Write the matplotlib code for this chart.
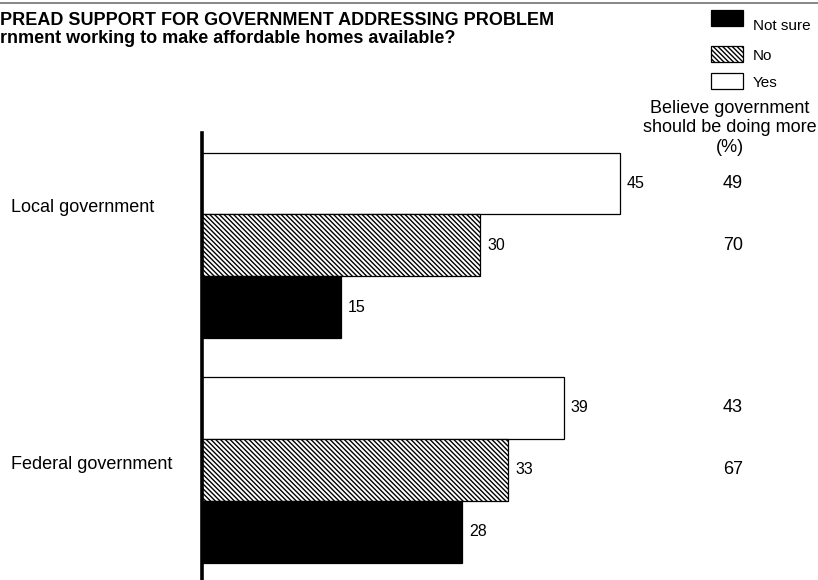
import matplotlib
matplotlib.use("Agg")
import matplotlib.pyplot as plt
from matplotlib.patches import Rectangle
from matplotlib.lines import Line2D
from matplotlib.transforms import blended_transform_factory

plt.rcParams["font.family"] = ["Liberation Sans", "DejaVu Sans"]
plt.rcParams["hatch.linewidth"] = 1.0

# data
GROUPS = ["Local government", "Federal government"]
SERIES = ["Yes", "No", "Not sure"]
YES = [45, 39]
NO = [30, 33]
NOT_SURE = [15, 28]
MORE_YES = [49, 43]   # believe government should be doing more (%), among "Yes"
MORE_NO = [70, 67]    # among "No"

TITLE1 = "PREAD SUPPORT FOR GOVERNMENT ADDRESSING PROBLEM"
TITLE2 = "rnment working to make affordable homes available?"
SIDE_HEAD = "Believe government\nshould be doing more\n(%)"

STYLE = {
    "Yes": dict(facecolor="white", hatch=None),
    "No": dict(facecolor="white", hatch="\\" * 7),
    "Not sure": dict(facecolor="black", hatch=None),
}

W, H = 818, 580
fig = plt.figure(figsize=(W / 100, H / 100), dpi=100)


def fx(px):
    return px / W


def fy(py):
    return 1 - py / H


GAP = 3.62  # distance between group starts, in bar heights
ax = fig.add_axes([fx(202), 0, 1 - fx(202), fy(132.7)])
ax.set_xlim(0, (W - 202) / 9.28)
ax.set_ylim(2 * 1 + GAP + 0.5 + 0.28, -0.5 - 0.32)

values = {"Yes": YES, "No": NO, "Not sure": NOT_SURE}
for i, s in enumerate(SERIES):
    ys = [g * GAP + i for g in range(len(GROUPS))]
    bars = ax.barh(ys, values[s], height=1.0, color=STYLE[s]["facecolor"],
                   hatch=STYLE[s]["hatch"], edgecolor="black", linewidth=0.9,
                   zorder=2)
    ax.bar_label(bars, labels=[str(v) for v in values[s]], padding=5,
                 fontsize=11.5)

# right-hand column: share believing government should do more
for g in range(len(GROUPS)):
    ax.text(57.2, g * GAP + 0, str(MORE_YES[g]), ha="center", va="center",
            fontsize=13, clip_on=False)
    ax.text(57.2, g * GAP + 1, str(MORE_NO[g]), ha="center", va="center",
            fontsize=13, clip_on=False)
fig.text(fx(730), fy(128), SIDE_HEAD, ha="center", va="center", fontsize=13,
         linespacing=1.2)

# category labels
lab_tr = blended_transform_factory(fig.transFigure, ax.transData)
for g, (name, off) in enumerate(zip(GROUPS, [0.38, 0.92])):
    ax.text(fx(11), g * GAP + off, name, transform=lab_tr, ha="left",
            va="center", fontsize=13)

for side in ["top", "right", "bottom"]:
    ax.spines[side].set_visible(False)
ax.spines["left"].set_linewidth(2.6)
ax.spines["left"].set_zorder(3)
ax.set_xticks([])
ax.set_yticks([])

# title
fig.text(fx(0.5), fy(25), TITLE1, ha="left", va="baseline", fontsize=13,
         fontweight="bold")
fig.text(fx(0.5), fy(43), TITLE2, ha="left", va="baseline", fontsize=13,
         fontweight="bold")
fig.add_artist(Line2D([0, 1], [fy(2.7), fy(2.7)], transform=fig.transFigure,
                      color="#666666", linewidth=1.1))

# legend, drawn by hand
leg = [("Not sure", 10, 26), ("No", 46, 56), ("Yes", 73, 83)]
for name, box_top, text_y in leg:
    fig.add_artist(Rectangle((fx(711), fy(box_top + 15.5)), fx(32), 15.5 / H,
                             transform=fig.transFigure,
                             facecolor=STYLE[name]["facecolor"],
                             hatch=STYLE[name]["hatch"], edgecolor="black",
                             linewidth=0.9))
    fig.text(fx(753), fy(text_y), name, ha="left", va="center", fontsize=11)

fig.savefig("out.png", dpi=100)
